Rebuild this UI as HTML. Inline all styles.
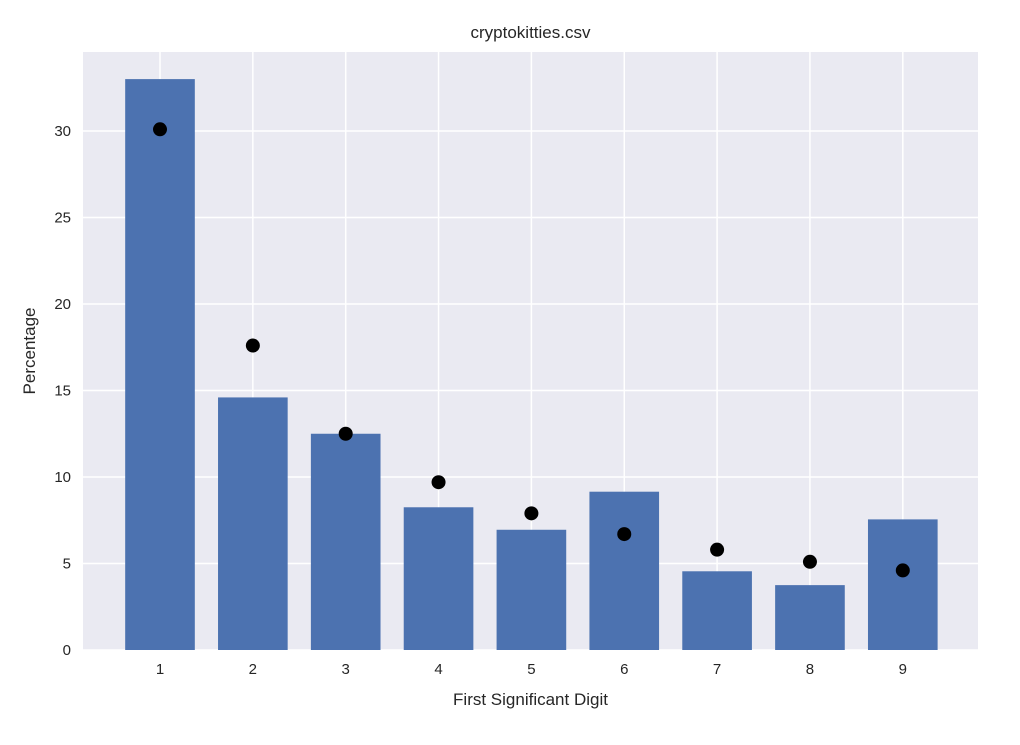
<!DOCTYPE html>
<html><head><meta charset="utf-8"><style>
body{margin:0;background:#fff;font-family:"Liberation Sans",sans-serif;}
svg text{font-family:"Liberation Sans",sans-serif;fill:#262626;}
</style></head><body>
<svg id="c" width="1020" height="740"></svg>
<script>
const digits=[1,2,3,4,5,6,7,8,9];
const observed=[33.0,14.6,12.5,8.25,6.95,9.15,4.55,3.75,7.55];
const benford=[30.1,17.6,12.5,9.7,7.9,6.7,5.8,5.1,4.6];
const yTicks=[0,5,10,15,20,25,30];
const L=83,R=978,T=52,B=650;
const x=v=>160+(v-1)*92.85;
const y=v=>B-v*17.3;
const svg=document.getElementById('c');
const NS='http://www.w3.org/2000/svg';
function mk(tag,attrs,parent){const e=document.createElementNS(NS,tag);for(const k in attrs)e.setAttribute(k,attrs[k]);(parent||svg).appendChild(e);return e;}
const bg=mk('rect',{x:L,y:T,width:R-L,height:B-T,fill:'#EAEAF2'});


yTicks.forEach(t=>{
 const g=mk('line',{x1:L,x2:R,y1:y(t),y2:y(t),stroke:'#fff','stroke-width':1.5});
 
 
 const tx=mk('text',{x:L-12,y:y(t)+5,'text-anchor':'end','font-size':15});
 tx.textContent=t;
 
 
});
digits.forEach(d=>{
 const g=mk('line',{x1:x(d),x2:x(d),y1:T,y2:B,stroke:'#fff','stroke-width':1.5});
 
 
 const tx=mk('text',{x:x(d),y:B+24,'text-anchor':'middle','font-size':15});
 tx.textContent=d;
 
 
});
digits.forEach((d,i)=>{
 const w=0.75*92.85;
 const r=mk('rect',{x:x(d)-w/2,y:y(observed[i]),width:w,height:y(0)-y(observed[i]),fill:'#4C72B0'});
 
 
});
digits.forEach((d,i)=>{
 const c=mk('circle',{cx:x(d),cy:y(benford[i]),r:7,fill:'#000'});
 
 
});
const title=mk('text',{x:(L+R)/2,y:38,'text-anchor':'middle','font-size':17});
title.textContent='cryptokitties.csv';


const xl=mk('text',{x:(L+R)/2,y:705,'text-anchor':'middle','font-size':17});
xl.textContent='First Significant Digit';


const yl=mk('text',{x:0,y:0,'text-anchor':'middle','font-size':17,transform:'translate(35,'+((T+B)/2)+') rotate(-90)'});
yl.textContent='Percentage';


</script>
</body></html>
